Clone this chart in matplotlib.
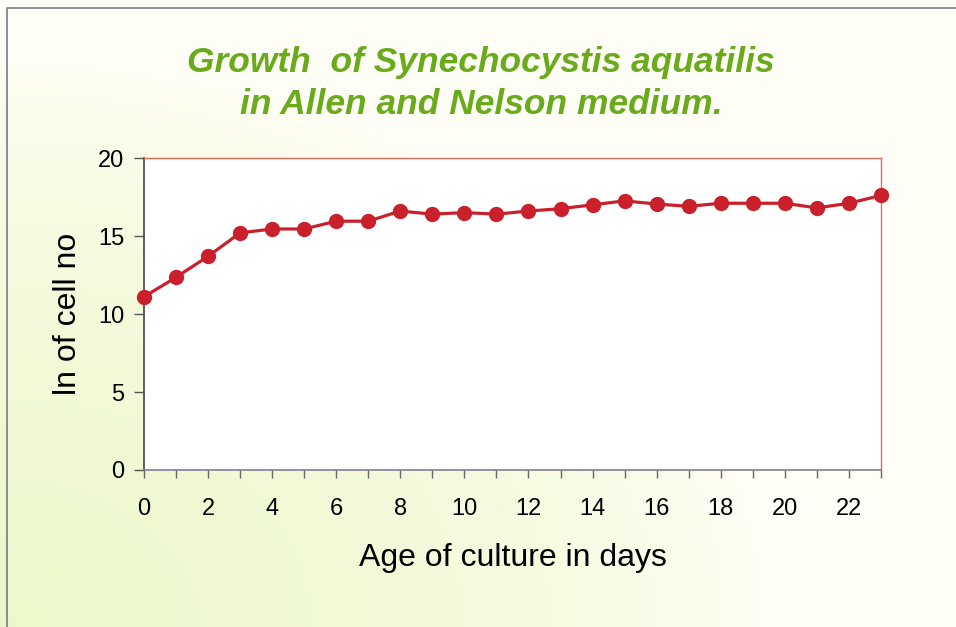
import numpy as np
import matplotlib
matplotlib.use('Agg')
import matplotlib.pyplot as plt

# data
days = list(range(24))
ln_cells = [11.1, 12.35, 13.7, 15.2, 15.45, 15.45, 15.95, 15.95, 16.6, 16.4, 16.5, 16.4,
            16.6, 16.75, 17.0, 17.25, 17.05, 16.9, 17.1, 17.1, 17.1, 16.8, 17.1, 17.6]
x_ticks = list(range(0, 24, 2))
y_ticks = [0, 5, 10, 15, 20]

plt.rcParams['font.family'] = ['Liberation Sans', 'DejaVu Sans']

fig = plt.figure(figsize=(9.56, 6.27), dpi=100)

# soft background: greenish-yellow in the lower-left, cream/white elsewhere
bg = fig.add_axes([0, 0, 1, 1], zorder=-10)
v, u = np.mgrid[1:0:200j, 0:1:300j]  # u from left, v from bottom
d = np.sqrt((u / 0.8) ** 2 + (v / 0.9) ** 2)
t = np.clip(1 - d, 0, 1) ** 0.6
c_green = np.array([0.925, 0.970, 0.79])
c_white = np.array([1.0, 0.997, 0.965])
img = c_white[None, None, :] * (1 - t[..., None]) + c_green[None, None, :] * t[..., None]
bg.imshow(img, extent=[0, 1, 0, 1], aspect='auto', origin='upper')
bg.plot([0.007, 0.007, 1.0], [0.0, 0.987, 0.987], color='#7a7a8a', lw=1.2)
bg.set_xlim(0, 1)
bg.set_ylim(0, 1)
bg.axis('off')

ax = fig.add_axes([0.1506, 0.2504, 0.7709, 0.4976])
ax.set_facecolor('white')
ax.plot(days, ln_cells, color='#c9202b', lw=2.3, marker='o', markersize=10,
        markeredgecolor='#c9202b', markerfacecolor='#c9202b', clip_on=False, zorder=5)

ax.set_xlim(0, 23)
ax.set_ylim(0, 20)
ax.set_xticks(days)
ax.set_xticklabels([str(d) if d in x_ticks else '' for d in days])
ax.set_yticks(y_ticks)
ax.tick_params(axis='x', direction='out', length=6, width=1, color='#666666',
               labelsize=17, pad=14)
ax.tick_params(axis='y', direction='out', length=7, width=1, color='#555555',
               labelsize=17, pad=7)

ax.spines['left'].set_color('#444444')
ax.spines['left'].set_linewidth(1.2)
ax.spines['bottom'].set_color('#8a7a90')
ax.spines['bottom'].set_linewidth(1.2)
ax.spines['top'].set_color('#e06a58')
ax.spines['right'].set_color('#e06a58')
ax.spines['top'].set_linewidth(1)
ax.spines['right'].set_linewidth(1)

ax.set_xlabel('Age of culture in days', fontsize=23, labelpad=17)
ax.set_ylabel('ln of cell no', fontsize=23, labelpad=11)

fig.text(0.503, 0.900, 'Growth  of Synechocystis aquatilis', color='#6aab1c',
         fontsize=25.5, fontweight='bold', fontstyle='italic', ha='center', va='center')
fig.text(0.503, 0.834, 'in Allen and Nelson medium.', color='#6aab1c',
         fontsize=25.5, fontweight='bold', fontstyle='italic', ha='center', va='center')

fig.savefig('out.png', dpi=100)
